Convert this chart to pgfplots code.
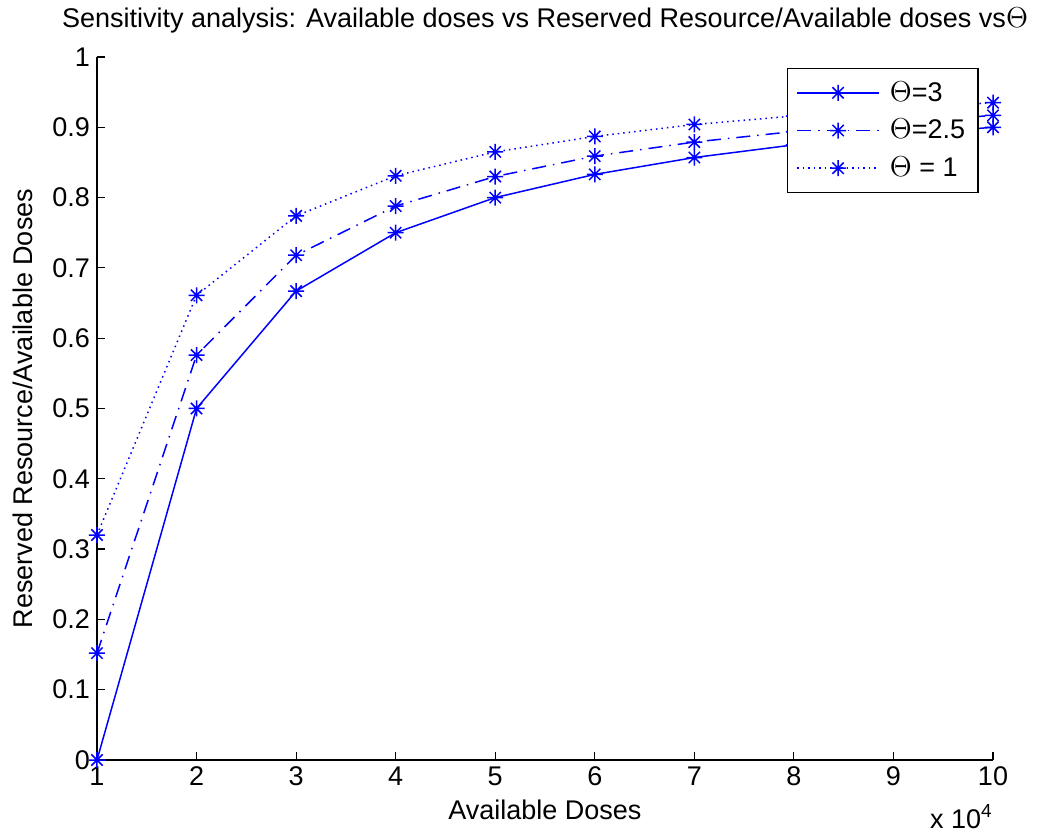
\documentclass[border=0pt]{standalone}
\usepackage{fontspec}
\setmainfont{Liberation Sans}
\usepackage{pgfplots}
\pgfplotsset{compat=1.18}

% MATLAB style asterisk: plus and cross on top of each other
\pgfdeclareplotmark{mstar}{%
  \pgfpathmoveto{\pgfqpoint{\pgfplotmarksize}{0pt}}%
  \pgfpathlineto{\pgfqpoint{-\pgfplotmarksize}{0pt}}%
  \pgfpathmoveto{\pgfqpoint{0pt}{\pgfplotmarksize}}%
  \pgfpathlineto{\pgfqpoint{0pt}{-\pgfplotmarksize}}%
  \pgfpathmoveto{\pgfqpoint{0.707\pgfplotmarksize}{0.707\pgfplotmarksize}}%
  \pgfpathlineto{\pgfqpoint{-0.707\pgfplotmarksize}{-0.707\pgfplotmarksize}}%
  \pgfpathmoveto{\pgfqpoint{-0.707\pgfplotmarksize}{0.707\pgfplotmarksize}}%
  \pgfpathlineto{\pgfqpoint{0.707\pgfplotmarksize}{-0.707\pgfplotmarksize}}%
  \pgfusepathqstroke}

\definecolor{mblue}{rgb}{0,0,1}

\begin{document}
\begin{tikzpicture}
\useasboundingbox (-48.5pt,-37pt) rectangle (475pt,380pt);
\begin{axis}[
    at={(0pt,0pt)}, anchor=south west,
    scale only axis,
    width=448pt, height=351.5pt,
    xmin=10000, xmax=100000,
    ymin=0, ymax=1,
    xtick={10000,20000,30000,40000,50000,60000,70000,80000,90000,100000},
    xticklabels={1,2,3,4,5,6,7,8,9,10},
    scaled x ticks=false,
    ytick={0,0.1,0.2,0.3,0.4,0.5,0.6,0.7,0.8,0.9,1},
    yticklabels={0,0.1,0.2,0.3,0.4,0.5,0.6,0.7,0.8,0.9,1},
    axis x line*=bottom,
    axis y line*=left,
    axis line style={line width=0.6pt, -},
    tick align=inside,
    major tick length=4pt,
    tick style={line width=0.6pt, black},
    font=\fontsize{13.5}{16}\selectfont,
    title={Sensitivity analysis: Available doses vs Reserved Resource/Available doses vs$\Theta$},
    title style={at={(0.5,1)}, anchor=base, yshift=8.5pt},
    xlabel={Available Doses},
    ylabel={Reserved Resource/Available Doses},
    xlabel style={yshift=0pt},
    ylabel style={yshift=3pt},
    clip=false,
    legend cell align=left,
    legend style={at={(rel axis cs:0.984,0.9845)}, anchor=north east,
        draw=black, line width=0.6pt, fill=white,
        font=\fontsize{13.5}{16}\selectfont,
        column sep=3pt,
        inner xsep=4.5pt, inner ysep=4.5pt, row sep=3.5pt},
    legend image code/.code={%
        \draw[mark repeat=2,mark phase=2,#1] plot coordinates {(0pt,0pt)(20.5pt,0pt)(41pt,0pt)};},
]
\addplot[mblue, line width=0.75pt, mark=mstar, mark size=4pt, mark options={solid}] coordinates {
    (10000,0) (20000,0.5) (30000,0.667) (40000,0.75) (50000,0.8)
    (60000,0.833) (70000,0.857) (80000,0.875) (90000,0.889) (100000,0.9)
};
\addplot[mblue, line width=0.75pt, dash pattern=on 7pt off 3.5pt on 0.75pt off 3.5pt, mark=mstar, mark size=4pt, mark options={solid}] coordinates {
    (10000,0.152) (20000,0.576) (30000,0.718) (40000,0.788) (50000,0.830)
    (60000,0.859) (70000,0.879) (80000,0.894) (90000,0.906) (100000,0.917)
};
\addplot[mblue, line width=0.75pt, dash pattern=on 0.75pt off 2pt, mark=mstar, mark size=4pt, mark options={solid}] coordinates {
    (10000,0.32) (20000,0.661) (30000,0.774) (40000,0.831) (50000,0.865)
    (60000,0.887) (70000,0.904) (80000,0.916) (90000,0.926) (100000,0.935)
};
\legend{$\Theta$=3, $\Theta$=2.5, $\Theta$ = 1}
\node[anchor=base east, inner sep=0pt] at ([yshift=-34pt]rel axis cs:1,0) {x 10\textsuperscript{4}};
\end{axis}
\end{tikzpicture}
\end{document}
